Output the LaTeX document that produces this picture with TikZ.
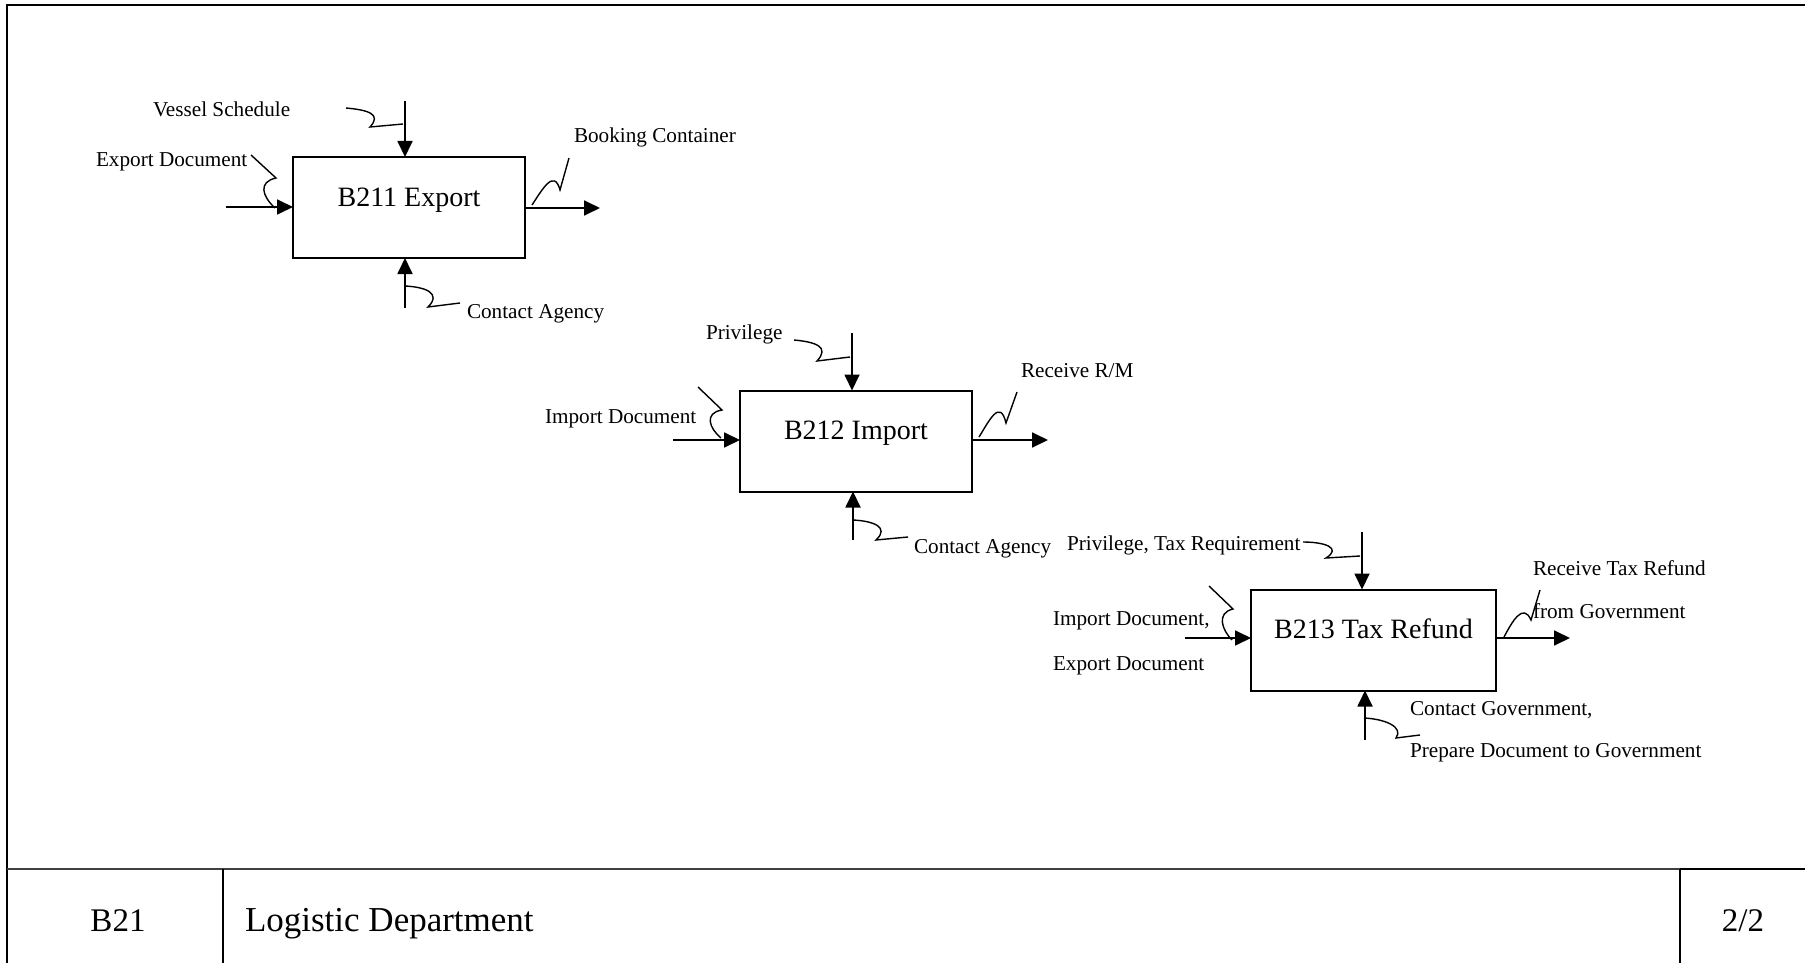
\documentclass[tikz,border=0pt]{standalone}
\usepackage{fontspec}
\setmainfont{Liberation Serif}
\usetikzlibrary{arrows.meta}

\begin{document}
\begin{tikzpicture}[x=1pt,y=-1pt,
  every node/.style={inner sep=0pt,outer sep=0pt},
  lbl/.style={anchor=base west,font=\fontsize{21.2}{25}\selectfont},
  act/.style={draw,line width=2pt,minimum width=232pt,minimum height=101pt,
    font=\fontsize{28}{32}\selectfont,text height=18.5pt,text depth=21pt},
  flow/.style={line width=1.8pt,-{Triangle[length=16pt,width=15pt]}},
  tag/.style={line width=1.4pt},
  frame/.style={line width=2.2pt,line join=miter},
  foot/.style={font=\fontsize{33}{38}\selectfont}]

\useasboundingbox (0,0) rectangle (1805,963);

% sheet frame and footer
\draw[frame] (7.3,963) -- (7.3,5) -- (1805,5);
\draw[line width=1.6pt,black!75] (7.3,869) -- (1688,869);
\draw[line width=2pt] (1680,869) -- (1805,869);
\draw[line width=1.6pt] (223,869) -- (223,963);
\draw[line width=1.6pt] (1680,869) -- (1680,963);
\node[foot,anchor=base] (fnum) at (118,931) {B21};
\node[foot,anchor=base west,font=\fontsize{35}{40}\selectfont] (ftitle) at (245,931) {Logistic Department};
\node[foot,anchor=base] (fpage) at (1743,931) {2/2};

% ---------- B211 Export ----------
\node[act] (b211) at (409,207.5) {B211 Export};
\coordinate (b211c) at (405,101);
\coordinate (b211i) at (226,207);
\coordinate (b211o) at (600,208);
\coordinate (b211m) at (405,308);
\draw[flow] (b211c) -- (b211c |- b211.north);
\draw[flow] (b211i) -- (b211i -| b211.west);
\draw[flow] (b211o -| b211.east) -- (b211o);
\draw[flow] (b211m) -- (b211m |- b211.south);
\node[lbl] (b211cl) at (153,117) {Vessel Schedule};
\node[lbl] (b211il) at (96,167) {Export Document};
\node[lbl] (b211ol) at (574,143) {Booking Container};
\node[lbl] (b211ml) at (467,318) {Contact Agency};
\draw[tag] (346,108) .. controls (368,110) and (382,114) .. (370,127) -- (403,124);
\draw[tag] (251,155) -- (276,178) .. controls (258,182) and (262,196) .. (275,208);
\draw[tag] (532,205) .. controls (542,190) and (554,168) .. (560,190) -- (569,158);
\draw[tag] (405,286) .. controls (425,287) and (442,293) .. (428,307) -- (460,303);

% ---------- B212 Import ----------
\node[act] (b212) at (856,441) {B212 Import};
\coordinate (b212c) at (852,333);
\coordinate (b212i) at (673,440);
\coordinate (b212o) at (1048,440);
\coordinate (b212m) at (853,540);
\draw[flow] (b212c) -- (b212c |- b212.north);
\draw[flow] (b212i) -- (b212i -| b212.west);
\draw[flow] (b212o -| b212.east) -- (b212o);
\draw[flow] (b212m) -- (b212m |- b212.south);
\node[lbl] (b212cl) at (706,339) {Privilege};
\node[lbl] (b212il) at (545,423) {Import Document};
\node[lbl] (b212ol) at (1021,377) {Receive R/M};
\node[lbl] (b212ml) at (914,553) {Contact Agency};
\draw[tag] (794,340) .. controls (816,342) and (830,347) .. (817,361) -- (850,357);
\draw[tag] (698,387) -- (722,410) .. controls (704,413) and (709,428) .. (721,438);
\draw[tag] (979,437) .. controls (989,421) and (1000,398) .. (1006,423) -- (1017,392);
\draw[tag] (853,520) .. controls (873,521) and (890,527) .. (876,540) -- (908,537);

% ---------- B213 Tax Refund ----------
\node[act,minimum width=245pt] (b213) at (1373.5,640) {B213 Tax Refund};
\coordinate (b213c) at (1362,532);
\coordinate (b213i) at (1185,638);
\coordinate (b213o) at (1570,638);
\coordinate (b213m) at (1365,740);
\draw[flow] (b213c) -- (b213c |- b213.north);
\draw[flow] (b213i) -- (b213i -| b213.west);
\draw[flow] (b213o -| b213.east) -- (b213o);
\draw[flow] (b213m) -- (b213m |- b213.south);
\node[lbl] (b213cl) at (1067,550) {Privilege, Tax Requirement};
\node[lbl] (b213il) at (1053,625) {Import Document,};
\node[lbl] (b213il2) at (1053,670) {Export Document};
\node[lbl] (b213ol) at (1533,575) {Receive Tax Refund};
\node[lbl] (b213ol2) at (1533,618) {from Government};
\node[lbl] (b213ml) at (1410,715) {Contact Government,};
\node[lbl] (b213ml2) at (1410,757) {Prepare Document to Government};
\draw[tag] (1303,542) .. controls (1325,542) and (1342,548) .. (1326,558) -- (1360,556);
\draw[tag] (1209,586) -- (1233,609) .. controls (1216,613) and (1222,630) .. (1232,640);
\draw[tag] (1504,637) .. controls (1512,622) and (1523,602) .. (1531,620) -- (1540,590);
\draw[tag] (1364,718) .. controls (1385,719) and (1404,727) .. (1396,738) -- (1420,735);

\end{tikzpicture}
\end{document}
